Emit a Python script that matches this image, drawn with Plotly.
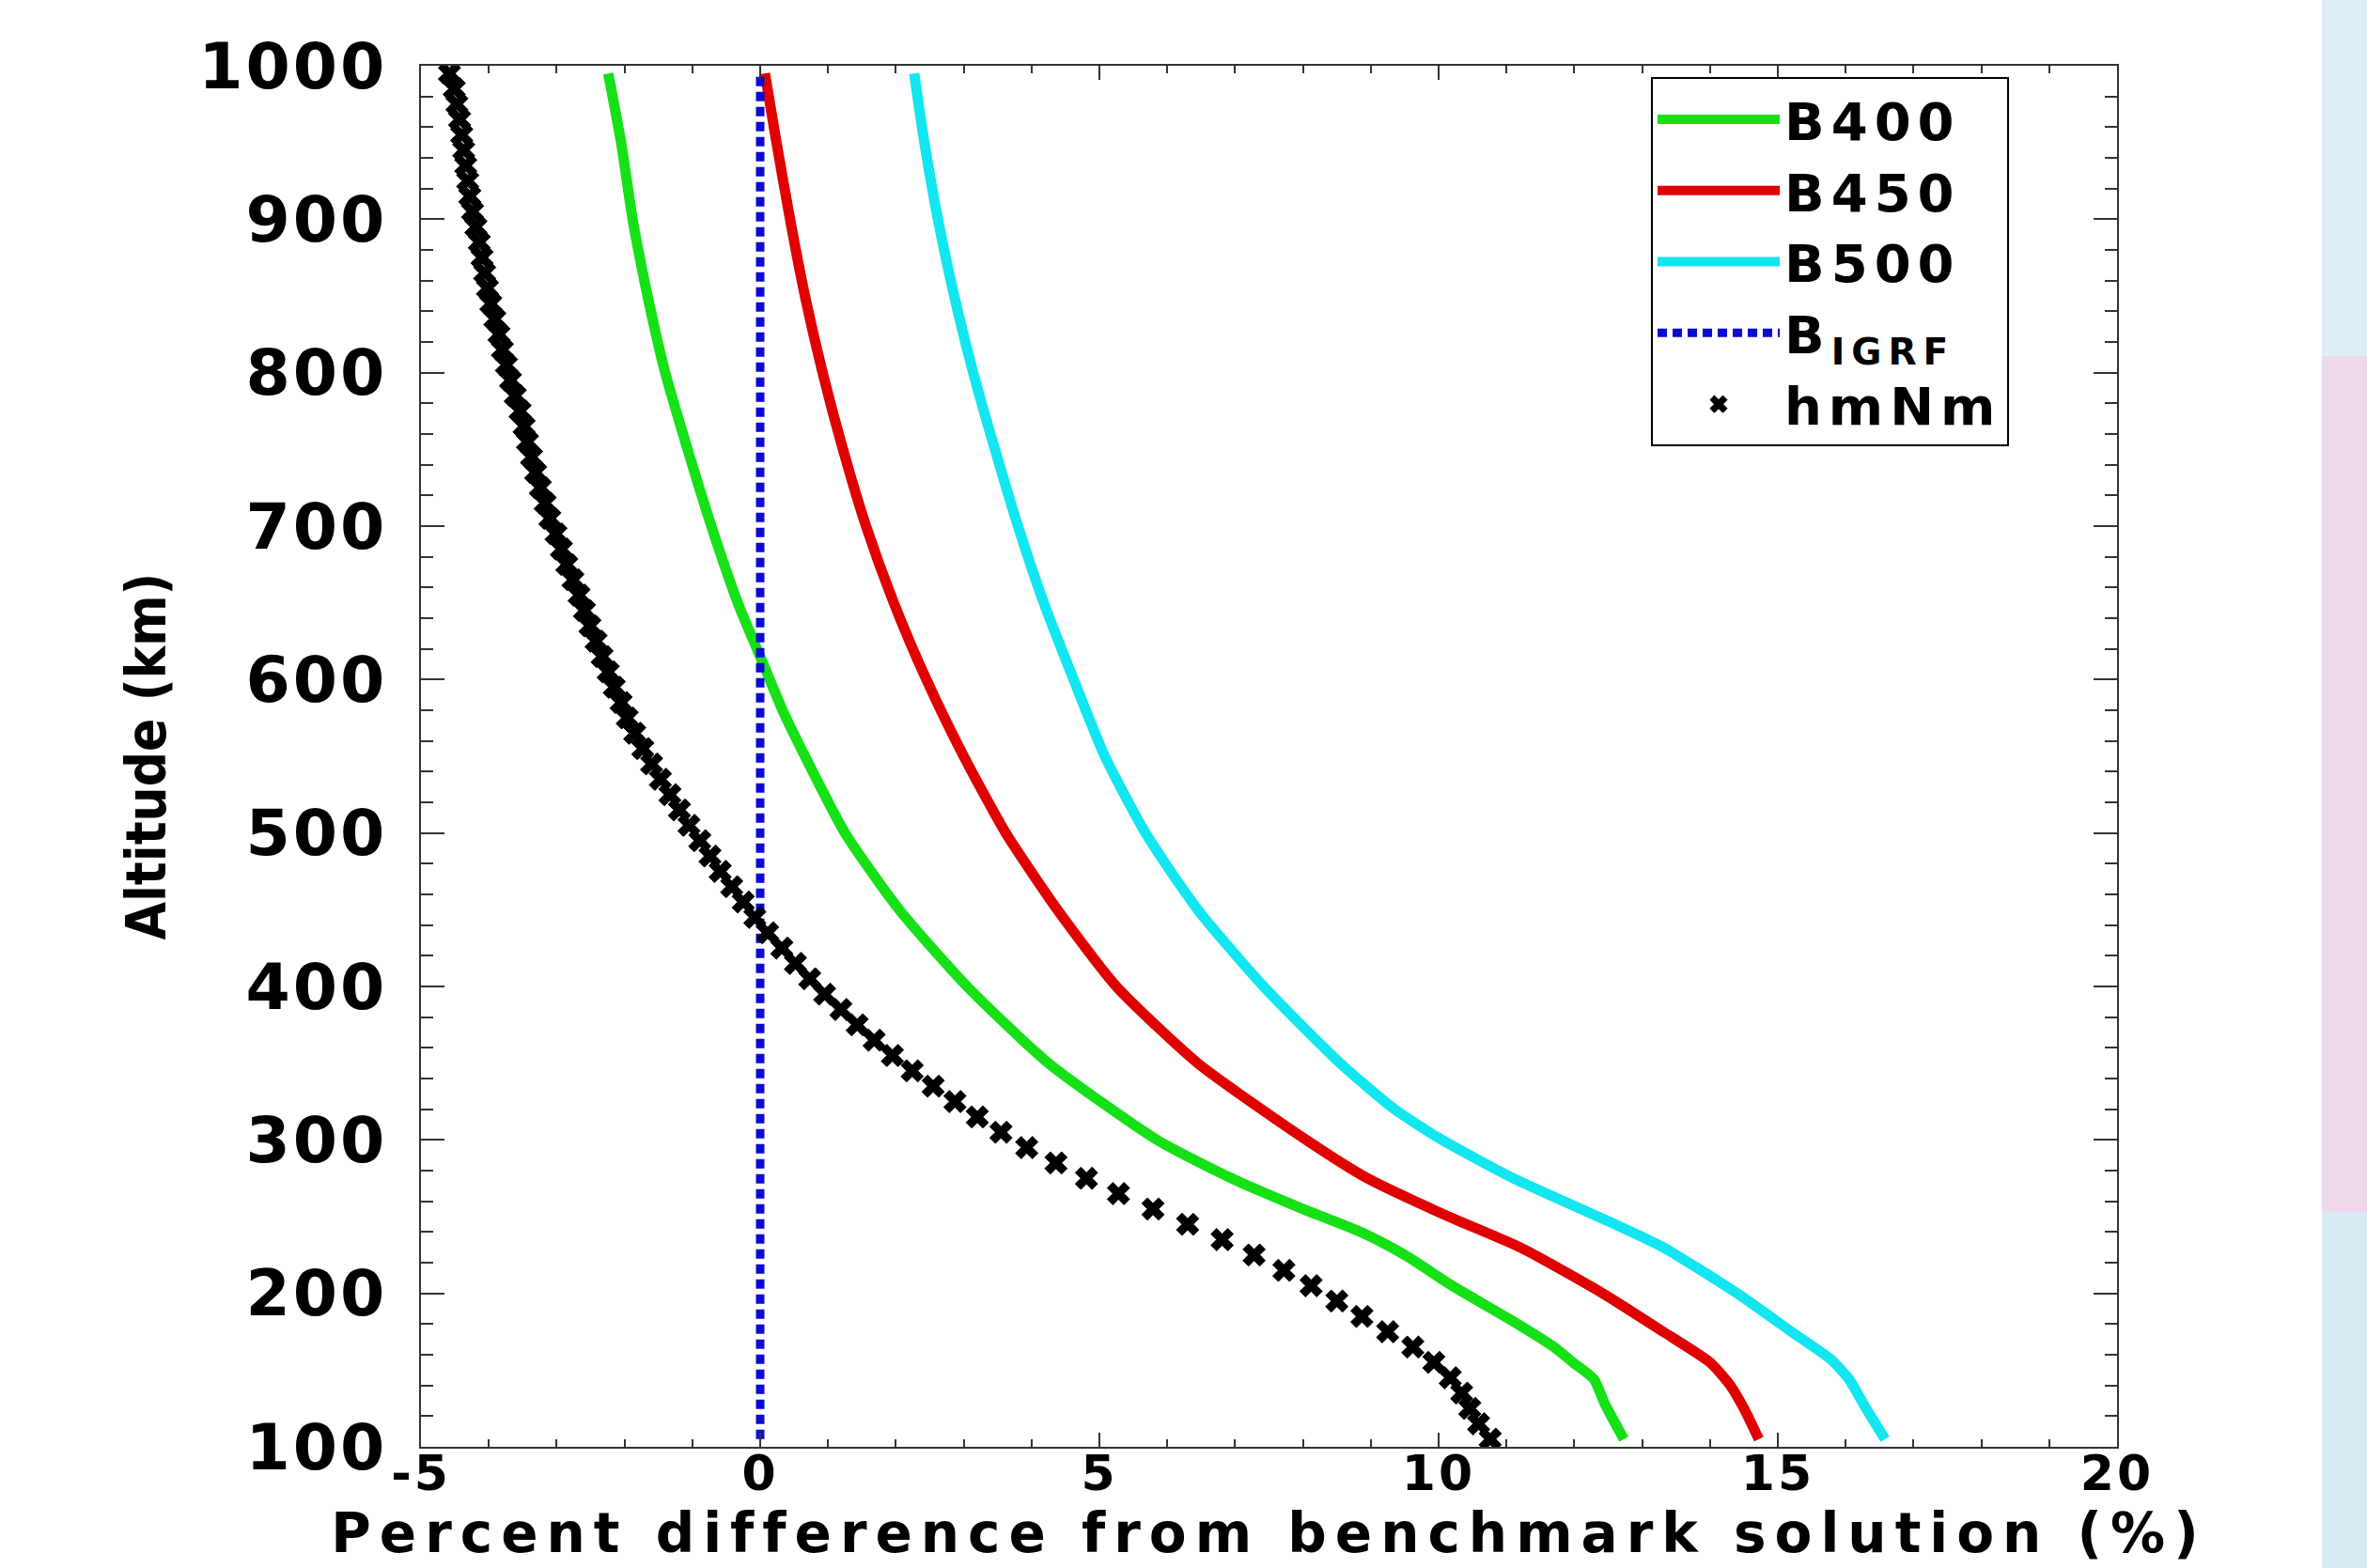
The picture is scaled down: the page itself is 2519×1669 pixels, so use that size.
import plotly.graph_objects as go

# ---------------- data ----------------
alt_b400 = [995, 950, 900, 850, 800, 750, 700, 650, 615, 580, 550, 500, 450, 400, 350,
            300, 275, 255, 240, 225, 205, 182, 165, 155, 144, 128, 105]
pct_b400 = [-2.24, -2.05, -1.88, -1.66, -1.40, -1.07, -0.72, -0.33, 0.0, 0.33, 0.66,
            1.25, 2.05, 3.05, 4.25, 5.85, 6.95, 8.0, 8.85, 9.5, 10.2, 11.09, 11.7,
            11.98, 12.29, 12.45, 12.73]

alt_b450 = [995, 950, 900, 850, 800, 750, 700, 650, 600, 550, 500, 450, 400, 350, 300,
            275, 250, 230, 200, 175, 155, 140, 125, 105]
pct_b450 = [0.07, 0.24, 0.44, 0.66, 0.92, 1.22, 1.56, 1.97, 2.45, 3.0, 3.62, 4.38, 5.25,
            6.45, 8.05, 8.95, 10.15, 11.2, 12.42, 13.31, 14.0, 14.3, 14.5, 14.72]

alt_b500 = [995, 950, 900, 850, 800, 750, 700, 650, 600, 550, 500, 450, 400, 350, 320,
            300, 275, 250, 230, 200, 175, 157, 144, 125, 105]
pct_b500 = [2.27, 2.42, 2.62, 2.86, 3.14, 3.46, 3.80, 4.18, 4.62, 5.08, 5.68, 6.45, 7.42,
            8.55, 9.35, 10.05, 11.1, 12.35, 13.31, 14.4, 15.2, 15.78, 16.05, 16.3, 16.58]

alt_igrf = [105, 995]
pct_igrf = [0.0, 0.0]

alt_hmnm = [995, 985, 975, 965, 955, 945, 935, 925, 915, 905, 895, 885, 875, 865, 855,
            845, 835, 825, 815, 805, 795, 785, 775, 765, 755, 745, 735, 725, 715, 705,
            695, 685, 675, 665, 655, 645, 635, 625, 615, 605, 595, 585, 575, 565, 555,
            545, 535, 525, 515, 505, 495, 485, 475, 465, 455, 445, 435, 425, 415, 405,
            395, 385, 375, 365, 355, 345, 335, 325, 315, 305, 295, 285, 275, 265, 255,
            245, 235, 225, 215, 205, 195, 185, 175, 165, 155, 145, 135, 125, 115, 105]
pct_hmnm = [-4.58, -4.51, -4.47, -4.43, -4.40, -4.37, -4.34, -4.31, -4.28, -4.24,
            -4.19, -4.14, -4.10, -4.06, -4.02, -3.97, -3.91, -3.85, -3.80, -3.74,
            -3.68, -3.61, -3.54, -3.48, -3.43, -3.37, -3.31, -3.24, -3.17, -3.10,
            -3.01, -2.93, -2.85, -2.76, -2.67, -2.59, -2.51, -2.42, -2.33, -2.24,
            -2.15, -2.05, -1.96, -1.85, -1.73, -1.60, -1.47, -1.33, -1.19, -1.05,
            -0.89, -0.74, -0.59, -0.42, -0.25, -0.08, 0.11, 0.32, 0.52, 0.73,
            0.95, 1.19, 1.43, 1.68, 1.95, 2.24, 2.55, 2.87, 3.20, 3.55,
            3.93, 4.36, 4.81, 5.28, 5.79, 6.30, 6.81, 7.28, 7.72, 8.12,
            8.50, 8.87, 9.25, 9.62, 9.93, 10.17, 10.34, 10.46, 10.59, 10.76]

x_tickvals = [-5, 0, 5, 10, 15, 20]
x_ticklabels = ["-5", "0", "5", "10", "15", "20"]
y_tickvals = [100, 200, 300, 400, 500, 600, 700, 800, 900, 1000]
y_ticklabels = ["100", "200", "300", "400", "500", "600", "700", "800", "900", "1000"]

names = ["B400", "B450", "B500", "B<sub>IGRF</sub>", "hmNm"]
colors = ["#16e016", "#e00000", "#12e6f0", "#0a0ad2", "#000000"]
x_title = "Percent difference from benchmark solution (%)"
y_title = "Altitude (km)"


def wide(text, px):
    # the reference lettering is horizontally stretched; mimic with letter spacing
    return "<span style='letter-spacing:%dpx'>%s</span>" % (px, text)


# ---------------- figure ----------------
FONT = "DejaVu Sans, Liberation Sans, Arial, sans-serif"
AX = "#333333"

fig = go.Figure()
for alt, pct, name, col in [(alt_b400, pct_b400, names[0], colors[0]),
                            (alt_b450, pct_b450, names[1], colors[1]),
                            (alt_b500, pct_b500, names[2], colors[2])]:
    fig.add_trace(go.Scatter(x=pct, y=alt, mode="lines", name=wide(name, 7),
                             line=dict(color=col, width=11, shape="spline", smoothing=0.6)))

fig.add_trace(go.Scatter(x=pct_igrf, y=alt_igrf, mode="lines", name=wide(names[3], 7),
                         line=dict(color=colors[3], width=9, dash="10px,6px")))
fig.add_trace(go.Scatter(x=pct_hmnm, y=alt_hmnm, mode="markers", name=wide(names[4], 7),
                         marker=dict(symbol="x", size=21, color=colors[4],
                                     line=dict(width=1, color="black"))))

fig.update_layout(
    width=2519, height=1669,
    margin=dict(l=448, r=266, t=70, b=129, autoexpand=False),
    paper_bgcolor="white", plot_bgcolor="white",
    showlegend=True,
    legend=dict(x=0.7252, y=0.9918, xanchor="left", yanchor="top",
                bgcolor="white", bordercolor="black", borderwidth=2,
                font=dict(family=FONT, size=56, color="black", weight="bold"),
                itemwidth=130, tracegroupgap=0),
    xaxis=dict(range=[-5, 20], tickvals=x_tickvals,
               ticktext=[wide(t, 3) for t in x_ticklabels],
               automargin=False,
               ticks="inside", ticklen=15, ticklabelstandoff=-18,
               tickwidth=2, tickcolor=AX, showline=True, linecolor=AX, linewidth=2,
               mirror="allticks", showgrid=False, zeroline=False,
               tickfont=dict(family=FONT, size=52, color="black", weight="bold"),
               minor=dict(dtick=1, ticks="inside", ticklen=8, tickwidth=1.5,
                          tickcolor=AX, showgrid=False),
               title=dict(text=wide(x_title, 9),
                          font=dict(family=FONT, size=58, color="black", weight="bold"),
                          standoff=0)),
    yaxis=dict(range=[100, 1000], tickvals=y_tickvals,
               ticktext=[wide(t, 3) for t in y_ticklabels],
               ticks="inside", ticklen=25, ticklabelstandoff=20,
               automargin=False,
               tickwidth=2, tickcolor=AX, showline=True, linecolor=AX, linewidth=2,
               mirror="allticks", showgrid=False, zeroline=False,
               tickfont=dict(family=FONT, size=68, color="black", weight="bold"),
               minor=dict(dtick=20, ticks="inside", ticklen=13, tickwidth=1.5,
                          tickcolor=AX, showgrid=False),
               title=dict(text=y_title,
                          font=dict(family="DejaVu Sans Condensed, DejaVu Sans, sans-serif",
                                    size=58, color="black", weight="bold"),
                          standoff=16)),
)

# decorative pastel strip at the far right edge of the reference image
for y0, y1, c in [(0.79, 1.06, "#dcedf5"), (0.17, 0.79, "#ecd8e8"), (-0.10, 0.17, "#d6ebf3")]:
    fig.add_shape(type="rect", xref="paper", yref="paper", x0=1.1208, x1=1.16,
                  y0=y0, y1=y1, fillcolor=c, line=dict(width=0), layer="below")

fig.write_html("out.html")
